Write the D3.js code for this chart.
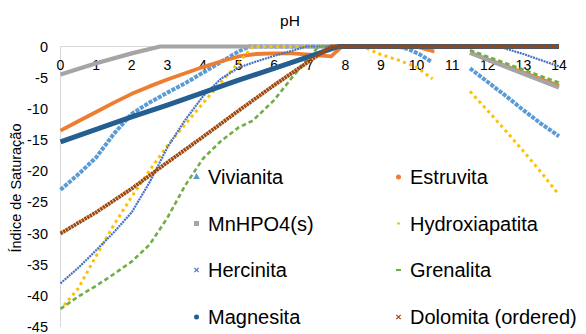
<!DOCTYPE html>
<html>
<head>
<meta charset="utf-8">
<script src="https://cdn.jsdelivr.net/npm/d3@7"></script>
<style>
  body { margin: 0; background: #fff; }
  svg { display: block; font-family: "Liberation Sans", Arial, sans-serif; }
</style>
</head>
<body>
<script>
// pH vs saturation index; null = gap in the data
const xTicks = d3.range(0, 15);
const yTicks = [0, -5, -10, -15, -20, -25, -30, -35, -40, -45];

const vivianita = [[0,-23],[0.5,-20.5],[1,-17.8],[1.5,-14],[2,-10.8],[2.5,-9],[3,-7.4],[3.5,-5.9],[4,-4.2],[4.5,-2.5],[5,-0.8],[5.3,0],[9.5,0],[9.8,-0.5],[10.1,-1.3],[10.4,-2.4],[10.5,null],[11.5,-3.5],[12,-5.7],[12.5,-7.9],[13,-10.2],[13.5,-12.4],[14,-14.4]];
const estruvita = [[0,-13.5],[0.5,-12],[1,-10.5],[1.5,-9],[2,-7.6],[2.5,-6.4],[3,-5.3],[3.5,-4.3],[4,-3.3],[4.5,-2.4],[5,-1.6],[5.5,-1.2],[6,-1.1],[6.5,-1.1],[7,-1.3],[7.6,-1.6],[7.9,0],[10,0],[10.3,-0.5],[10.5,-0.8],[10.6,null],[11.5,-1.0],[14,-6.3]];
const mnhpo4 = [[0,-4.5],[1,-2.7],[2,-1.1],[2.8,0],[10.5,0],[10.6,null],[11.5,-1.0],[14,-6.6]];
const hydroxiapatita = [[0.1,-41.5],[0.5,-38.8],[1,-33.6],[1.5,-28.6],[2,-24.1],[2.5,-19.9],[3,-15.9],[3.5,-12.5],[4,-9.1],[4.5,-5.8],[5,-2.6],[5.4,0],[8.5,0],[9,-1.3],[9.5,-2.2],[10,-3.3],[10.45,-5.2],[10.6,null],[11.5,-7.2],[12,-10.3],[12.5,-13.5],[13,-16.8],[13.5,-20.2],[14,-23.8]];
const hercinita = [[0,-38],[0.5,-35.5],[1,-32.7],[1.5,-29.8],[2,-26.6],[2.5,-21.8],[3,-16.2],[3.5,-11.8],[4,-8],[4.5,-5.2],[5,-3.4],[5.5,-2.4],[6,-1.5],[6.5,-0.7],[6.9,0],[12.3,0],[13,-1.2],[14,-3.2]];
const grenalita = [[0,-42.1],[0.5,-40.1],[1,-38.4],[1.5,-36.5],[2,-34.5],[2.5,-31.8],[3,-27.5],[3.5,-22.3],[4,-18],[4.5,-15.2],[5,-13],[5.4,-11.9],[5.6,-10.8],[6,-8.6],[6.5,-5],[7,-1.6],[7.25,0],[10.5,0],[10.6,null],[11.5,-0.6],[14,-5.8]];
const magnesita = [[0,-15.3],[1,-13.3],[2,-11.3],[3,-9.4],[4,-7.4],[5,-5.4],[6,-3.5],[7,-1.6],[7.8,0],[14,0]];
const dolomita = [[0,-30],[1,-26.6],[2,-22.8],[3,-18.6],[4,-14.5],[5,-10.3],[6,-6.2],[7,-2.3],[7.6,0],[14,0]];

const names = ["Vivianita", "Estruvita", "MnHPO4(s)", "Hydroxiapatita", "Hercinita", "Grenalita", "Magnesita", "Dolomita (ordered)"];
const colors = ["#5B9BD5", "#ED7D31", "#A5A5A5", "#FFC000", "#4472C4", "#70AD47", "#255E91", "#9E480E"];
const seriesData = [vivianita, estruvita, mnhpo4, hydroxiapatita, hercinita, grenalita, magnesita, dolomita];

// how each excel marker run is imitated by a stroke
const strokeStyles = [
  { w: 4, dash: "4,1.2" },
  { w: 3.8, dash: null },
  { w: 4.2, dash: null },
  { w: 3, dash: "3,3.5" },
  { w: 2.2, dash: "2,0.8" },
  { w: 2.6, dash: "4.5,3" },
  { w: 5, dash: null },
  { w: 3.8, dash: "2.5,0.6" }
];

const width = 586, height = 334;
const svg = d3.select("body").append("svg")
  .attr("width", width)
  .attr("height", height);

const x = d3.scaleLinear().domain([0, 14]).range([60.5, 559]);
const y = d3.scaleLinear().domain([-45, 0]).range([327, 46.5]);

// axis lines
svg.append("line")
  .attr("x1", x(0)).attr("x2", x(0))
  .attr("y1", y(0)).attr("y2", y(-45))
  .attr("stroke", "#d9d9d9").attr("stroke-width", 1);
svg.append("line")
  .attr("x1", x(0)).attr("x2", x(14))
  .attr("y1", y(0)).attr("y2", y(0))
  .attr("stroke", "#d9d9d9").attr("stroke-width", 1);

// y tick labels
svg.append("g").selectAll("text")
  .data(yTicks)
  .enter().append("text")
    .attr("x", 48)
    .attr("y", d => y(d))
    .attr("dy", "0.35em")
    .attr("text-anchor", "end")
    .attr("font-size", 14.5)
    .attr("fill", "#000")
    .text(d => d);

// x tick labels (axis sits on top)
svg.append("g").selectAll("text")
  .data(xTicks)
  .enter().append("text")
    .attr("x", d => x(d))
    .attr("y", 70)
    .attr("text-anchor", "middle")
    .attr("font-size", 14)
    .attr("fill", "#000")
    .text(d => d);

svg.append("text")
  .attr("x", 290).attr("y", 26)
  .attr("text-anchor", "middle")
  .attr("font-size", 15.5)
  .text("pH");

svg.append("text")
  .attr("transform", "translate(21,188) rotate(-90)")
  .attr("text-anchor", "middle")
  .attr("font-size", 14.5)
  .text("Índice de Saturação");

const line = d3.line()
  .defined(d => d[1] !== null)
  .x(d => x(d[0]))
  .y(d => y(d[1]));

const g = svg.append("g");
seriesData.forEach((data, i) => {
  g.append("path")
    .attr("d", line(data))
    .attr("fill", "none")
    .attr("stroke", colors[i])
    .attr("stroke-width", strokeStyles[i].w)
    .attr("stroke-dasharray", strokeStyles[i].dash)
    .attr("stroke-linejoin", "round");
});

// legend
const legend = svg.append("g");
const legX = [196.5, 398.5];
const legY = [177, 223.5, 270, 317];
names.forEach((name, i) => {
  const lx = legX[i % 2], ly = legY[Math.floor(i / 2)];
  const c = colors[i];
  const it = legend.append("g").attr("transform", `translate(${lx},${ly})`);
  if (i === 0) it.append("path").attr("d", d3.symbol(d3.symbolTriangle, 20)()).attr("fill", c);
  else if (i === 1 || i === 6) it.append("circle").attr("r", 2.5).attr("fill", c);
  else if (i === 2) it.append("rect").attr("x", -2.5).attr("y", -2.5).attr("width", 5).attr("height", 5).attr("fill", c);
  else if (i === 3) it.append("rect").attr("x", -1.5).attr("y", -1).attr("width", 3).attr("height", 2).attr("fill", c);
  else if (i === 5) it.append("rect").attr("x", -2.5).attr("y", -1).attr("width", 5).attr("height", 2).attr("fill", c);
  else it.append("path").attr("d", d3.symbol(d3.symbolX, 14)()).attr("stroke", c).attr("stroke-width", 1.2);
  it.append("text")
    .attr("x", 11.5)
    .attr("dy", "0.35em")
    .attr("font-size", 20)
    .attr("fill", "#000")
    .text(name);
});
</script>
</body>
</html>
